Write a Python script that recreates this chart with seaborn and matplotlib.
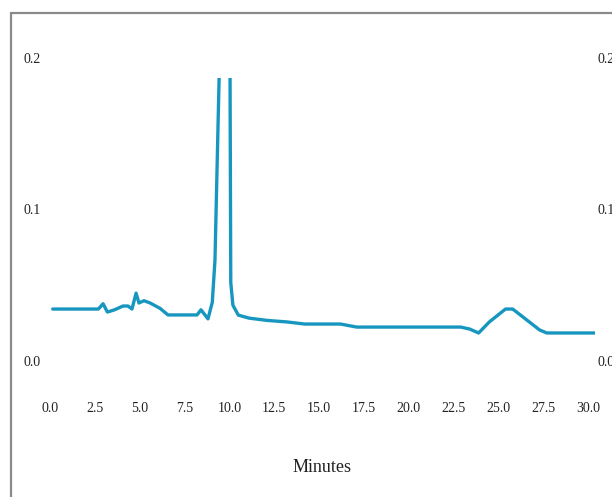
import matplotlib
matplotlib.use("Agg")
import matplotlib.pyplot as plt
import matplotlib.transforms as mtransforms
from matplotlib.lines import Line2D
import seaborn as sns
import pandas as pd

# Detector trace (minutes, absorbance)
time_min = [0.15, 2.7, 2.96, 3.2, 3.6, 4.07, 4.35, 4.57, 4.8, 4.96, 5.24, 5.58,
            6.13, 6.58, 8.2, 8.42, 8.81, 9.05, 9.2, 9.43, 9.75, 10.04, 10.08,
            10.2, 10.5, 11.1, 12.1, 13.2, 14.2, 16.2, 17.1, 22.9, 23.4, 23.9,
            24.5, 25.4, 25.8, 26.4, 27.3, 27.7, 30.4]
absorbance = [0.0475, 0.0475, 0.051, 0.0455, 0.047, 0.0495, 0.0495, 0.0475,
              0.058, 0.0515, 0.053, 0.0515, 0.048, 0.0436, 0.0436, 0.047,
              0.041, 0.052, 0.08, 0.2, 0.5, 0.2, 0.065, 0.05, 0.0435, 0.0415,
              0.040, 0.039, 0.0376, 0.0376, 0.0356, 0.0356, 0.0343, 0.0317,
              0.039, 0.0475, 0.0475, 0.042, 0.0337, 0.0317, 0.0317]

x_ticks = [0.0, 2.5, 5.0, 7.5, 10.0, 12.5, 15.0, 17.5, 20.0, 22.5, 25.0, 27.5, 30.0]
y_ticks = [0.0, 0.1, 0.2]
x_label = "Minutes"

trace = pd.DataFrame({"t": time_min, "a": absorbance})

sns.set_style("white")
plt.rcParams["font.family"] = ["Liberation Serif", "DejaVu Serif"]

W, H, DPI = 612, 497, 100
fig = plt.figure(figsize=(W / DPI, H / DPI), dpi=DPI)
fig.patch.set_facecolor("white")

# axes box in pixel units
left, right, top, bottom = 50, 595, 78, 381
ax = fig.add_axes([left / W, 1 - bottom / H, (right - left) / W, (bottom - top) / H])

sns.lineplot(data=trace, x="t", y="a", ax=ax, color="#1797c0", linewidth=2.4,
             sort=False)

ax.set_xlim(0, 30 + (right - 588) / ((588 - left) / 30))
ax.set_ylim(0, 0.2)
ax.set_xticks(x_ticks)
ax.set_xticklabels([f"{v:.1f}" for v in x_ticks])
ax.set_yticks(y_ticks)
ax.set_yticklabels([f"{v:.1f}" for v in y_ticks])
ax.tick_params(axis="x", length=0, pad=15, labelsize=10, colors="#222222")
ax.tick_params(axis="y", length=0, pad=7, labelsize=10, colors="#222222",
               labelleft=True, labelright=True)
for s in ax.spines.values():
    s.set_visible(False)
ax.set_xlabel(x_label, fontsize=13, labelpad=32, color="#222222")
ax.set_ylabel("")

# y labels sit slightly above their gridline positions; right ones hug the axes
shift_left = mtransforms.ScaledTranslation(0, 20 / DPI, fig.dpi_scale_trans)
shift_right = mtransforms.ScaledTranslation(-7 / DPI, 20 / DPI, fig.dpi_scale_trans)
for tk in ax.yaxis.get_major_ticks():
    tk.label1.set_transform(tk.label1.get_transform() + shift_left)
    tk.label2.set_transform(tk.label2.get_transform() + shift_right)

# frame around the figure (top and left edges)
fig.add_artist(Line2D([11 / W, 11 / W], [1 - 13 / H, -0.05], transform=fig.transFigure,
                      color="#8a8a8a", linewidth=1.6))
fig.add_artist(Line2D([11 / W, 1.05], [1 - 13 / H, 1 - 13 / H], transform=fig.transFigure,
                      color="#8a8a8a", linewidth=1.6))

fig.savefig("out.png", dpi=DPI)
